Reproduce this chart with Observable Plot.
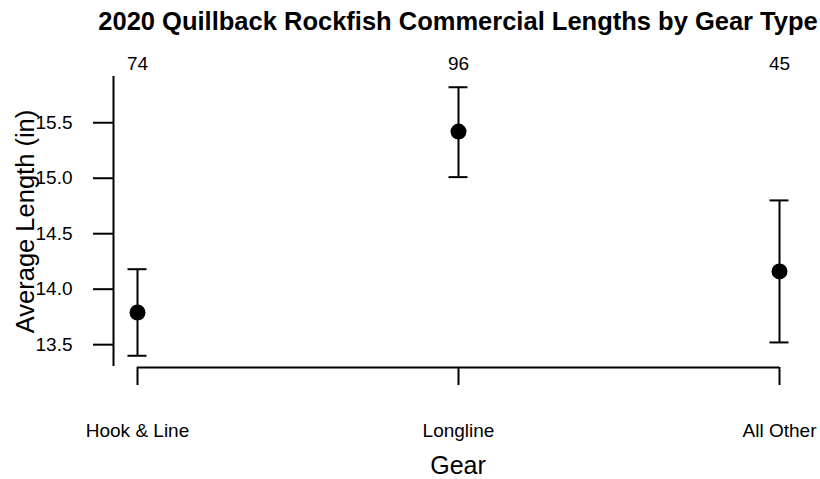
<!DOCTYPE html>
<html>
<head>
<meta charset="utf-8">
<script src="https://cdn.jsdelivr.net/npm/d3@7"></script>
<script src="https://cdn.jsdelivr.net/npm/@observablehq/plot@0.6"></script>
<style>
  html, body { margin: 0; padding: 0; background: #fff; }
  svg { display: block; }
</style>
</head>
<body>
<div id="chart"></div>
<script>
const gears = ["Hook & Line", "Longline", "All Other"];
const means = [13.79, 15.42, 14.16];
const lower = [13.40, 15.01, 13.52];
const upper = [14.18, 15.82, 14.80];
const counts = [74, 96, 45];
const yTicks = [13.5, 14.0, 14.5, 15.0, 15.5];
const title = "2020 Quillback Rockfish Commercial Lengths by Gear Type";
const xLabel = "Gear";
const yLabel = "Average Length (in)";

const data = gears.map((g, i) => ({gear: g, mean: means[i], lower: lower[i], upper: upper[i], n: counts[i]}));

const lo = d3.min(lower), hi = d3.max(upper);
const ext = (hi - lo) * 0.04;
const yDomain = [lo - ext, hi + ext];

const font = "'Liberation Sans', Arial, Helvetica, sans-serif";
const tickFont = 19;
const labFont = 25.5;

const chart = Plot.plot({
  width: 820,
  height: 479,
  marginTop: 76,
  marginBottom: 113,
  marginLeft: 136,
  marginRight: 41,
  style: {fontFamily: font, fontSize: tickFont + "px", background: "#fff", color: "#000"},
  x: {type: "point", domain: gears, padding: 0, axis: null},
  y: {domain: yDomain, axis: null},
  marks: [
    // y axis line (offset left of the plot region)
    Plot.ruleX([gears[0]], {dx: -24, stroke: "black", strokeWidth: 2}),
    // y ticks
    Plot.ruleY(yTicks, {y: d => d, x1: () => gears[0], x2: () => gears[0], insetLeft: -44, insetRight: 24, stroke: "black", strokeWidth: 2}),
    // y tick labels
    Plot.text(yTicks, {y: d => d, text: d => d3.format(".1f")(d), frameAnchor: "left", textAnchor: "end", lineAnchor: "middle", dx: -64, fontSize: tickFont, fill: "black"}),
    // x axis line
    Plot.ruleY([{y: yDomain[0], a: gears[0], b: gears[gears.length - 1]}], {y: "y", x1: "a", x2: "b", dy: 1, stroke: "black", strokeWidth: 2}),
    // x ticks
    Plot.ruleX(gears, {x: d => d, y1: () => yDomain[0], y2: () => yDomain[0], insetTop: 1, insetBottom: -19, stroke: "black", strokeWidth: 2}),
    // x tick labels
    Plot.text(gears, {x: d => d, text: d => d, frameAnchor: "bottom", lineAnchor: "middle", dy: 64, fontSize: tickFont, fill: "black"}),
    // error bars
    Plot.ruleX(data, {x: "gear", y1: "lower", y2: "upper", stroke: "black", strokeWidth: 2}),
    Plot.ruleY(data, {y: "upper", x1: "gear", x2: "gear", insetLeft: -9.5, insetRight: -9.5, stroke: "black", strokeWidth: 2}),
    Plot.ruleY(data, {y: "lower", x1: "gear", x2: "gear", insetLeft: -9.5, insetRight: -9.5, stroke: "black", strokeWidth: 2}),
    Plot.dot(data, {x: "gear", y: "mean", r: 8, fill: "black", stroke: "none"}),
    // sample sizes
    Plot.text(data, {x: "gear", text: d => String(d.n), frameAnchor: "top", lineAnchor: "middle", dy: -13, fontSize: tickFont, fill: "black"}),
    // axis titles and main title
    Plot.text([xLabel], {text: d => d, frameAnchor: "bottom", lineAnchor: "middle", dy: 99, fontSize: 25, fill: "black"}),
    Plot.text([yLabel], {text: d => d, frameAnchor: "left", textAnchor: "middle", lineAnchor: "middle", dx: -111, rotate: -90, fontSize: labFont, fill: "black"}),
    Plot.text([title], {text: d => d, frameAnchor: "top", lineAnchor: "middle", dy: -55, fontSize: labFont, fontWeight: "bold", fill: "black"})
  ]
});
document.getElementById("chart").appendChild(chart);
</script>
</body>
</html>
